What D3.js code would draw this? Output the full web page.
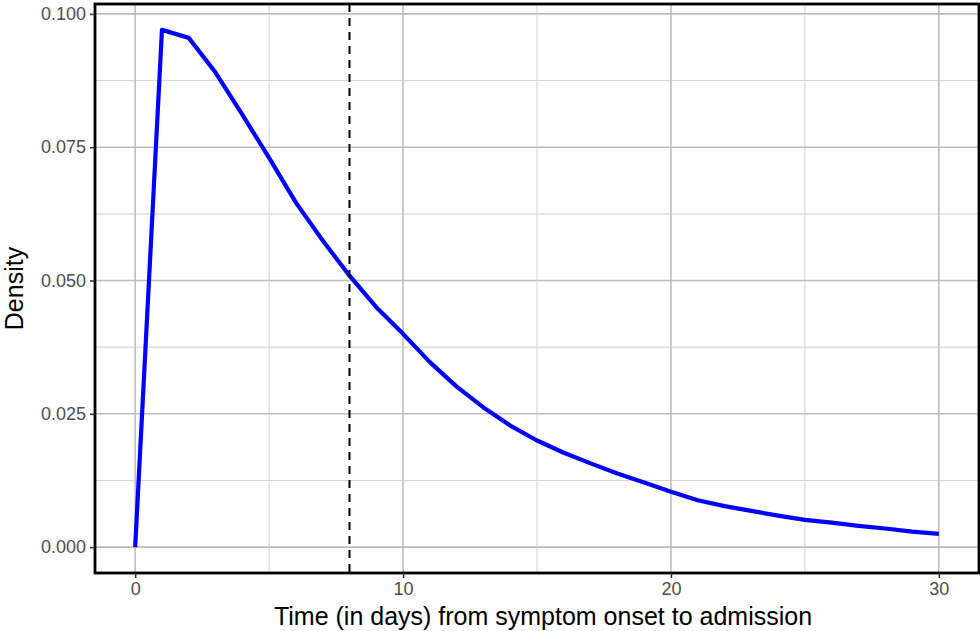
<!DOCTYPE html>
<html><head><meta charset="utf-8"><title>Density of time from symptom onset to admission</title>
<style>
    body { margin: 0; background: #fff; }
    svg { display: block; font-family: 'Liberation Sans', Arial, sans-serif; }
</style>
</head>
<body>
<svg id="chart" width="980" height="631"></svg>
<script src="https://cdn.jsdelivr.net/npm/d3@7"></script>
<script>
    // values
    const days = [0, 1, 2, 3, 4, 5, 6, 7, 8, 9, 10, 11, 12, 13, 14, 15,
                  16, 17, 18, 19, 20, 21, 22, 23, 24, 25, 26, 27, 28, 29, 30];
    const density = [0, 0.0970, 0.0955, 0.0890, 0.0811, 0.0730, 0.0646, 0.0575, 0.0509, 0.0450, 0.0400,
                     0.0347, 0.0301, 0.0262, 0.0228, 0.0200, 0.0177, 0.0157, 0.0138, 0.0121, 0.0104,
                     0.0088, 0.0077, 0.0068, 0.0059, 0.0051, 0.0046, 0.0040, 0.0035, 0.0029, 0.0025];
    const xTicks = [0, 10, 20, 30];
    const xMinor = [5, 15, 25];
    const yTicks = [0, 0.025, 0.05, 0.075, 0.1];
    const yMinor = [0.0125, 0.0375, 0.0625, 0.0875];
    const medianDay = 8;

    const W = 980, H = 631;
    const margin = {top: 4, right: 1, bottom: 58, left: 95};
    const width = W - margin.left - margin.right;
    const height = H - margin.top - margin.bottom;

    const svg = d3.select("#chart");
    const g = svg.append("g").attr("transform", `translate(${margin.left},${margin.top})`);

    const x = d3.scaleLinear().domain([-1.5, 31.5]).range([0, width]);
    const yMax = d3.max(density);
    const y = d3.scaleLinear().domain([-0.05 * yMax, yMax * 1.05]).range([height, 0]);

    // grid
    g.selectAll(".gy-minor").data(yMinor).enter().append("line")
        .attr("x1", 0).attr("x2", width).attr("y1", d => y(d)).attr("y2", d => y(d))
        .attr("stroke", "#d6d6d6").attr("stroke-width", 1.1);
    g.selectAll(".gx-minor").data(xMinor).enter().append("line")
        .attr("y1", 0).attr("y2", height).attr("x1", d => x(d)).attr("x2", d => x(d))
        .attr("stroke", "#d6d6d6").attr("stroke-width", 1.1);
    g.selectAll(".gy").data(yTicks).enter().append("line")
        .attr("x1", 0).attr("x2", width).attr("y1", d => y(d)).attr("y2", d => y(d))
        .attr("stroke", "#bebebe").attr("stroke-width", 1.6);
    g.selectAll(".gx").data(xTicks).enter().append("line")
        .attr("y1", 0).attr("y2", height).attr("x1", d => x(d)).attr("x2", d => x(d))
        .attr("stroke", "#bebebe").attr("stroke-width", 1.6);

    // density curve
    const line = d3.line()
        .x((d, i) => x(days[i]))
        .y(d => y(d));
    g.append("path")
        .datum(density)
        .attr("fill", "none")
        .attr("stroke", "#0000ff")
        .attr("stroke-width", 4.2)
        .attr("stroke-linejoin", "round")
        .attr("d", line);

    // median marker
    g.append("line")
        .attr("x1", x(medianDay)).attr("x2", x(medianDay))
        .attr("y1", 0).attr("y2", height)
        .attr("stroke", "#000").attr("stroke-width", 2)
        .attr("stroke-dasharray", "8,6");

    // panel border
    g.append("rect")
        .attr("x", 0).attr("y", 0).attr("width", width).attr("height", height)
        .attr("fill", "none").attr("stroke", "#000").attr("stroke-width", 2.8);

    // axes
    const xAxis = g.append("g").attr("transform", `translate(0,${height})`)
        .call(d3.axisBottom(x).tickValues(xTicks).tickFormat(d3.format("d")).tickSize(5).tickPadding(4));
    const yAxis = g.append("g")
        .call(d3.axisLeft(y).tickValues(yTicks).tickFormat(d3.format(".3f")).tickSize(5).tickPadding(4));
    [xAxis, yAxis].forEach(a => {
        a.select(".domain").remove();
        a.selectAll(".tick line").attr("stroke", "#333").attr("stroke-width", 1.6);
        a.selectAll(".tick text").attr("fill", "#4d4d4d")
            .style("font-size", "18px").style("font-family", "'Liberation Sans', Arial, sans-serif");
    });

    // titles
    svg.append("text")
        .attr("x", margin.left + width / 2 + 6).attr("y", H - 6)
        .attr("text-anchor", "middle")
        .style("font-size", "25px").attr("fill", "#000")
        .text("Time (in days) from symptom onset to admission");
    svg.append("text")
        .attr("transform", `translate(23,${margin.top + height / 2}) rotate(-90)`)
        .attr("text-anchor", "middle")
        .style("font-size", "25px").attr("fill", "#000")
        .text("Density");
</script>
</body>
</html>
